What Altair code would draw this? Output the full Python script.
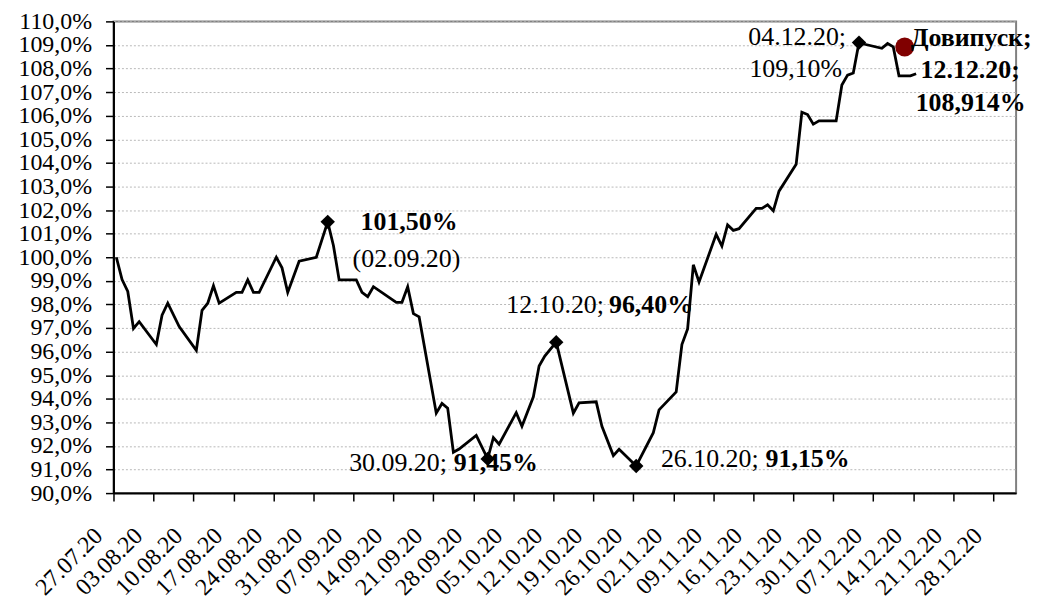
import altair as alt
import pandas as pd

# ---- data ----
dates = ["27.07.20", "28.07.20", "29.07.20", "30.07.20", "31.07.20", "03.08.20", "04.08.20",
         "05.08.20", "07.08.20", "10.08.20", "11.08.20", "12.08.20", "13.08.20", "14.08.20",
         "17.08.20", "18.08.20", "19.08.20", "20.08.20", "21.08.20", "24.08.20", "25.08.20",
         "26.08.20", "28.08.20", "31.08.20", "02.09.20", "03.09.20", "04.09.20", "07.09.20",
         "08.09.20", "09.09.20", "10.09.20", "14.09.20", "15.09.20", "16.09.20", "17.09.20",
         "18.09.20", "21.09.20", "22.09.20", "23.09.20", "24.09.20", "25.09.20", "28.09.20",
         "30.09.20", "01.10.20", "02.10.20", "05.10.20", "06.10.20", "08.10.20", "09.10.20",
         "10.10.20", "12.10.20", "15.10.20", "16.10.20", "19.10.20", "20.10.20", "22.10.20",
         "23.10.20", "26.10.20", "29.10.20", "30.10.20", "02.11.20", "03.11.20", "04.11.20",
         "05.11.20", "06.11.20", "09.11.20", "10.11.20", "11.11.20", "12.11.20", "13.11.20",
         "16.11.20", "17.11.20", "18.11.20", "19.11.20", "20.11.20", "23.11.20", "24.11.20",
         "25.11.20", "26.11.20", "27.11.20", "30.11.20", "01.12.20", "02.12.20", "03.12.20",
         "04.12.20", "05.12.20", "08.12.20", "09.12.20", "10.12.20", "11.12.20", "13.12.20",
         "14.12.20"]
values = [100.00, 99.05, 98.55, 96.98, 97.27, 96.30, 97.54,
          98.05, 97.06, 96.05, 97.75, 98.05, 98.79, 98.05,
          98.51, 98.51, 99.04, 98.51, 98.51, 100.00, 99.55,
          98.51, 99.83, 100.00, 101.50, 100.50, 99.04, 99.04,
          98.51, 98.33, 98.75, 98.09, 98.09, 98.75, 97.61,
          97.47, 93.39, 93.80, 93.60, 91.73, 91.87, 92.45,
          91.45, 92.35, 92.07, 93.41, 92.83, 94.08, 95.39,
          95.81, 96.40, 93.39, 93.83, 93.87, 92.83, 91.59,
          91.86, 91.15, 92.56, 93.53, 94.29, 96.30, 96.96,
          99.68, 98.95, 100.97, 100.47, 101.37, 101.14, 101.21,
          102.07, 102.07, 102.22, 101.97, 102.80, 103.94, 106.15,
          106.05, 105.64, 105.78, 105.78, 107.30, 107.72, 107.81,
          109.10, 109.03, 108.86, 109.06, 108.92, 107.69, 107.69,
          107.78]

mark_dates = ["02.09.20", "30.09.20", "12.10.20", "26.10.20", "04.12.20"]
mark_values = [101.50, 91.45, 96.40, 91.15, 109.10]

issue_date = ["12.12.20"]
issue_value = [108.914]

tick_dates = ["27.07.20", "03.08.20", "10.08.20", "17.08.20", "24.08.20", "31.08.20",
              "07.09.20", "14.09.20", "21.09.20", "28.09.20", "05.10.20", "12.10.20",
              "19.10.20", "26.10.20", "02.11.20", "09.11.20", "16.11.20", "23.11.20",
              "30.11.20", "07.12.20", "14.12.20", "21.12.20", "28.12.20"]
y_ticks = [90, 91, 92, 93, 94, 95, 96, 97, 98, 99, 100, 101, 102, 103, 104, 105,
           106, 107, 108, 109, 110]

# ---- helpers ----
FONT = "Liberation Serif"
FS = 26      # annotations
AFS = 24     # axis labels


def to_dt(s):
    # a point sits in the middle of its day, as on the original date axis
    return pd.to_datetime(s, format="%d.%m.%y") + pd.Timedelta(hours=12)


def dt_obj(s):
    d = pd.to_datetime(s, format="%d.%m.%y")
    return alt.DateTime(year=d.year, month=d.month, date=d.day)


line_df = pd.DataFrame({"date": [to_dt(d) for d in dates], "value": values})
mark_df = pd.DataFrame({"date": [to_dt(d) for d in mark_dates], "value": mark_values})
issue_df = pd.DataFrame({"date": [to_dt(d) for d in issue_date], "value": issue_value})

X = alt.X(
    "date:T",
    scale=alt.Scale(domain=[dt_obj("27.07.20"), dt_obj("01.01.21")]),
    axis=alt.Axis(
        values=[dt_obj(d) for d in tick_dates],
        format="%d.%m.%y",
        labelAngle=315,
        labelAlign="right",
        labelBaseline="middle",
        labelPadding=31,
        labelOffset=-15,
        labelFont=FONT,
        labelFontSize=AFS,
        labelColor="black",
        tickSize=8,
        tickColor="black",
        tickWidth=1.5,
        domainColor="black",
        domainWidth=2,
        grid=False,
        title=None,
        labelOverlap=False,
    ),
)
Y = alt.Y(
    "value:Q",
    scale=alt.Scale(domain=[90, 110], nice=False, zero=False),
    axis=alt.Axis(
        values=y_ticks,
        labelExpr="replace(format(datum.value, '.1f'), '.', ',') + '%'",
        labelFont=FONT,
        labelFontSize=AFS,
        labelColor="black",
        labelPadding=14,
        tickSize=8,
        tickColor="black",
        tickWidth=1.5,
        domainColor="black",
        domainWidth=2,
        grid=True,
        gridColor="#b8b8b8",
        gridDash=[2, 2],
        gridWidth=1,
        title=None,
        labelOverlap=False,
    ),
)

line = alt.Chart(line_df).mark_line(color="black", strokeWidth=2.8).encode(x=X, y=Y)
diamonds = alt.Chart(mark_df).mark_point(
    shape="diamond", filled=True, size=210, color="black", opacity=1
).encode(x=X, y=Y)
circle = alt.Chart(issue_df).mark_point(
    shape="circle", filled=True, size=360, color="#800000", opacity=1
).encode(x=X, y=Y)


def label(d, v, text, dx, dy, align="left", bold=False):
    df = pd.DataFrame({"date": [to_dt(d)], "value": [v], "text": [text]})
    return alt.Chart(df).mark_text(
        align=align, baseline="middle", dx=dx, dy=dy, font=FONT, fontSize=FS,
        fontWeight="bold" if bold else "normal", color="black"
    ).encode(x=X, y=Y, text="text:N")


labels = [
    label(mark_dates[0], mark_values[0], "101,50%", 33, 0, bold=True),
    label(mark_dates[0], mark_values[0], "(02.09.20)", 25, 37),
    label(mark_dates[1], mark_values[1], "30.09.20;", -41, 4, align="right"),
    label(mark_dates[1], mark_values[1], "91,45%", -34, 4, bold=True),
    label(mark_dates[2], mark_values[2], "12.10.20;", 48, -37, align="right"),
    label(mark_dates[2], mark_values[2], "96,40%", 53, -37, bold=True),
    label(mark_dates[3], mark_values[3], "26.10.20;", 123, -7, align="right"),
    label(mark_dates[3], mark_values[3], "91,15%", 130, -7, bold=True),
    label(mark_dates[4], mark_values[4], "04.12.20;", -13, -6, align="right"),
    label(mark_dates[4], mark_values[4], "109,10%", -17, 27, align="right"),
    label(issue_date[0], issue_value[0], "Довипуск;", 6, -9, bold=True),
    label(issue_date[0], issue_value[0], "12.12.20;", 16, 23, bold=True),
    label(issue_date[0], issue_value[0], "108,914%", 11, 56, bold=True),
]

chart = alt.layer(line, diamonds, circle, *labels).properties(
    width=907,
    height=474,
    autosize=alt.AutoSizeParams(type="none"),
    padding={"left": 106, "top": 12, "right": 20, "bottom": 110},
).configure_view(stroke="#808080", strokeWidth=2)

chart.save("out.html", embed_options={"renderer": "svg", "actions": False})
